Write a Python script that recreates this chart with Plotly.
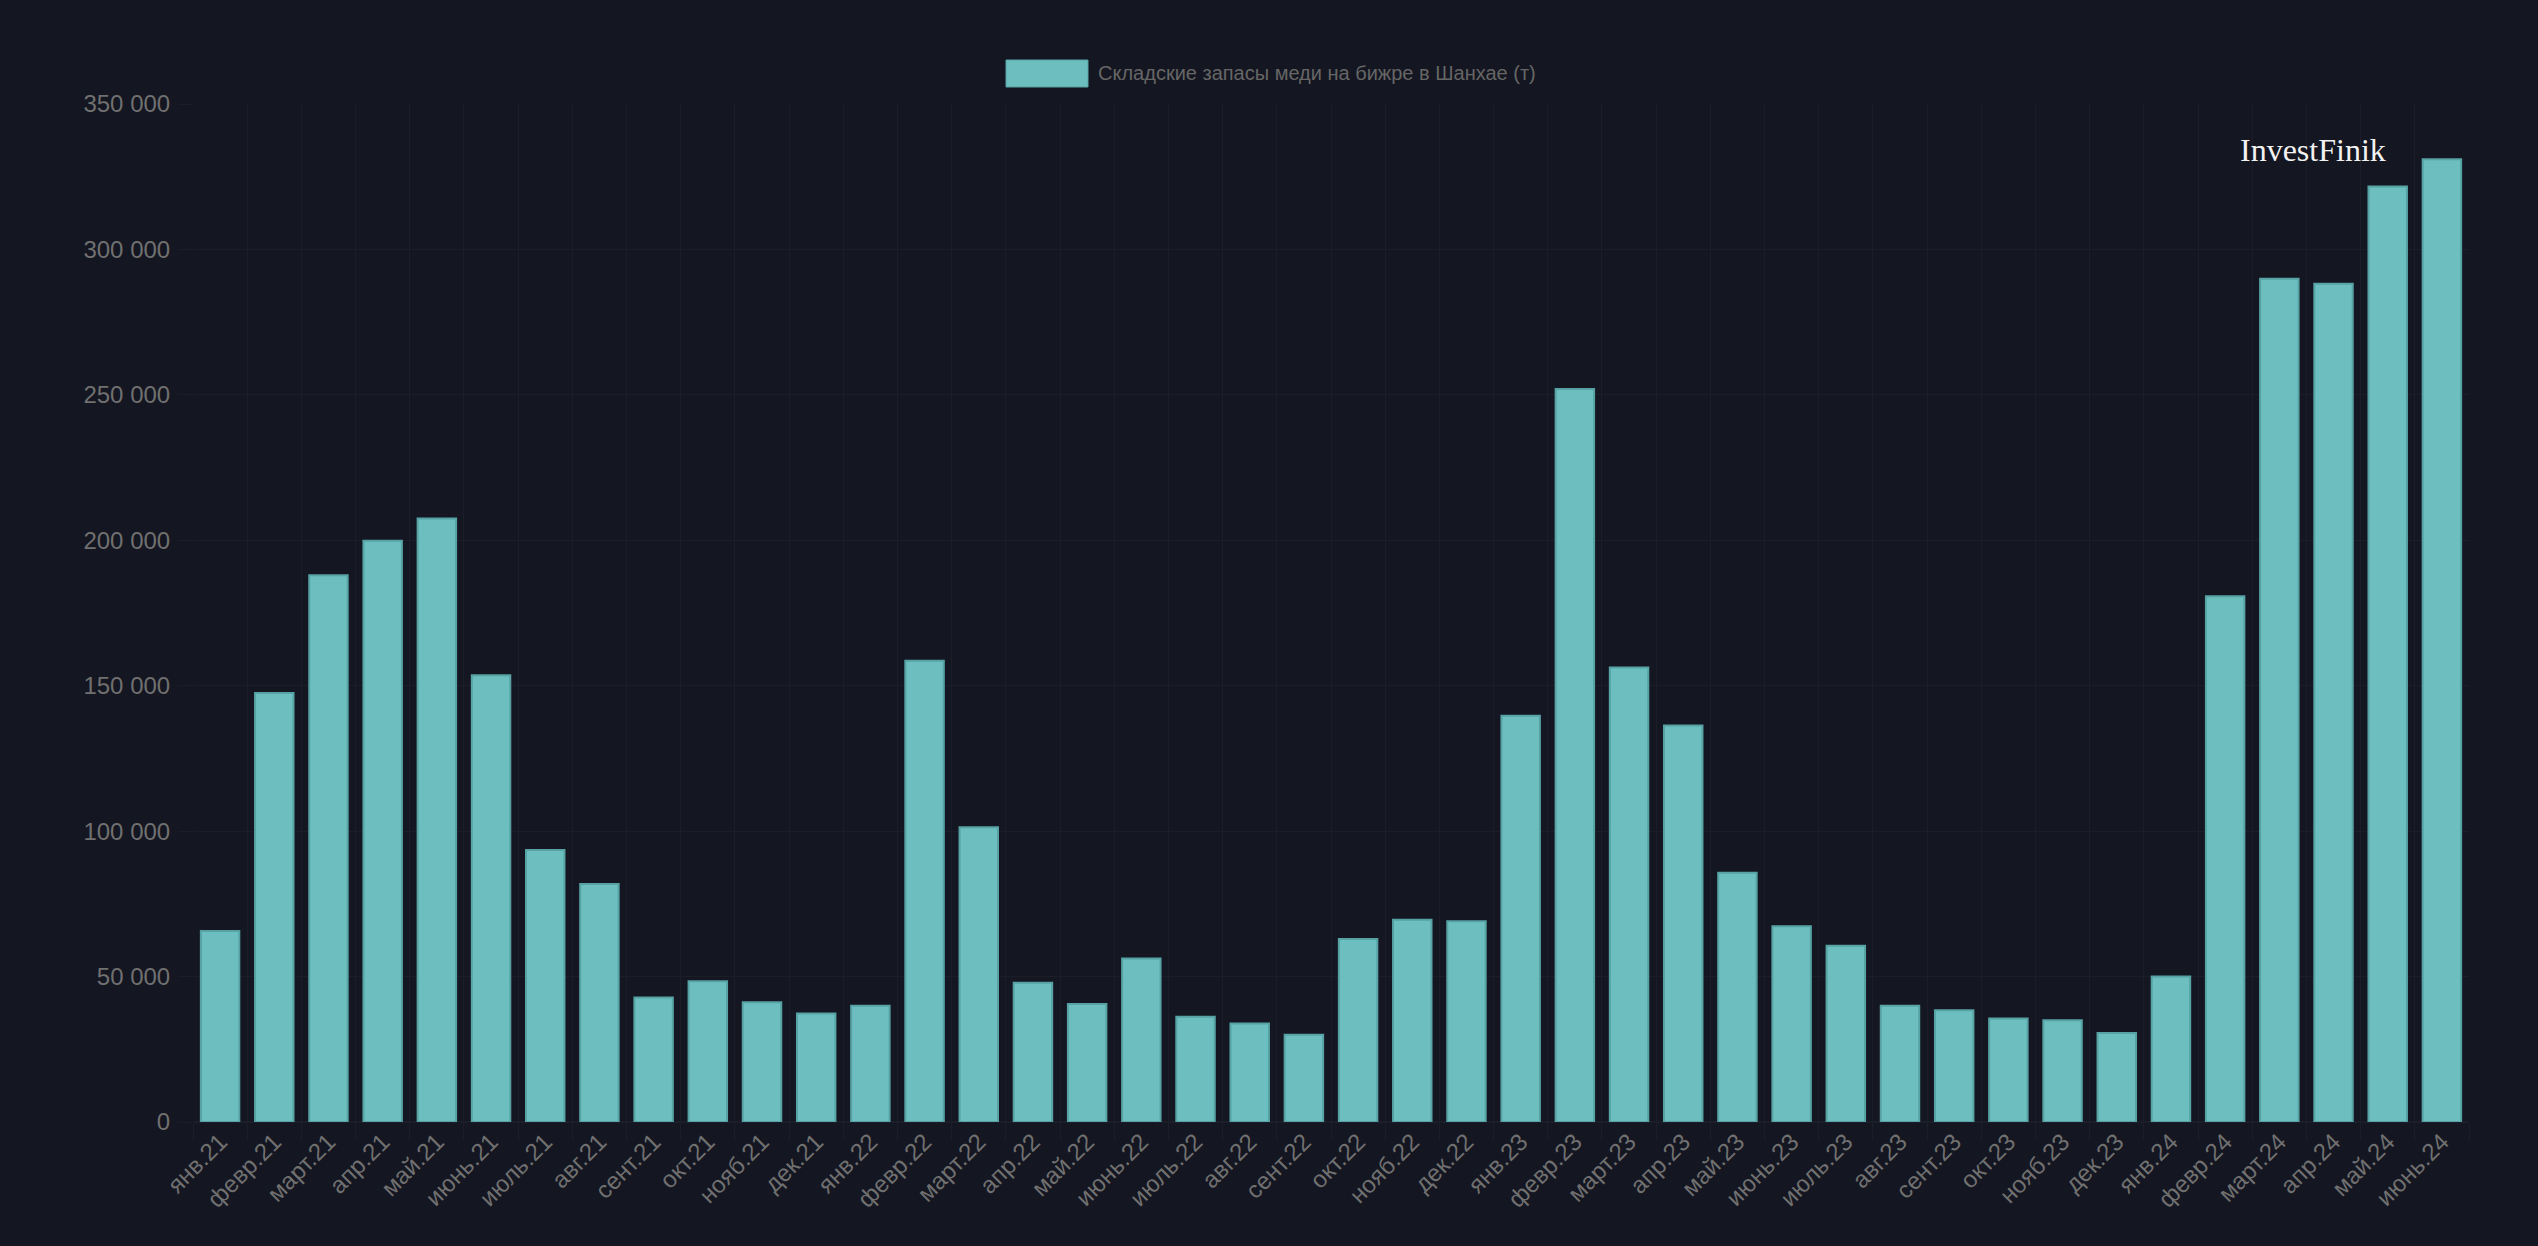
import plotly.graph_objects as go

months = ["янв.21", "февр.21", "март.21", "апр.21", "май.21", "июнь.21", "июль.21", "авг.21",
          "сент.21", "окт.21", "нояб.21", "дек.21", "янв.22", "февр.22", "март.22", "апр.22",
          "май.22", "июнь.22", "июль.22", "авг.22", "сент.22", "окт.22", "нояб.22", "дек.22",
          "янв.23", "февр.23", "март.23", "апр.23", "май.23", "июнь.23", "июль.23", "авг.23",
          "сент.23", "окт.23", "нояб.23", "дек.23", "янв.24", "февр.24", "март.24", "апр.24",
          "май.24", "июнь.24"]
stocks = [65700, 147500, 188000, 199800, 207500, 153600, 93500, 81800,
          42800, 48400, 41200, 37300, 40000, 158600, 101300, 47900,
          40600, 56200, 36200, 33900, 30000, 62900, 69500, 69000,
          139700, 252000, 156300, 136300, 85700, 67300, 60600, 40000,
          38400, 35600, 35000, 30600, 50000, 180800, 289900, 288200,
          321600, 331000]
series_name = "Складские запасы меди на бижре в Шанхае (т)"
y_ticks = [0, 50000, 100000, 150000, 200000, 250000, 300000, 350000]
y_tick_text = ["0", "50 000", "100 000", "150 000", "200 000", "250 000", "300 000", "350 000"]

BG = "#141621"
GRID = "#1b1e28"
BAR = "#6cbebf"
BAR_EDGE = "#56a2a4"
TXT = "#707070"

W, H = 2538, 1246
ML, MR, MT, MB = 193, 69, 104, 124
PW, PH = W - ML - MR, H - MT - MB

def px_x(x):
    return (x - ML) / PW

def px_y(y):
    return (H - MB - y) / PH

fig = go.Figure()
fig.add_trace(go.Bar(
    x=months, y=stocks, name=series_name,
    marker=dict(color=BAR, line=dict(color=BAR_EDGE, width=2)),
    showlegend=False,
))

# legend (drawn manually to match the wide swatch)
fig.add_shape(type="rect", xref="paper", yref="paper",
              x0=px_x(1006), x1=px_x(1088), y0=px_y(87), y1=px_y(60),
              fillcolor=BAR, line=dict(color=BAR_EDGE, width=1))
fig.add_annotation(xref="paper", yref="paper", x=px_x(1096), y=px_y(73),
                   xanchor="left", yanchor="middle", showarrow=False,
                   text=series_name, font=dict(size=20, color="#666666",
                                               family="Liberation Sans, Arial, sans-serif"))
# watermark
fig.add_annotation(xref="paper", yref="paper", x=px_x(2313), y=px_y(150),
                   xanchor="center", yanchor="middle", showarrow=False,
                   text="InvestFinik", font=dict(size=32, color="#f2f2f2",
                                                 family="Liberation Serif, Times New Roman, serif"))

fig.update_layout(
    width=W, height=H,
    margin=dict(l=ML, r=MR, t=MT, b=MB),
    paper_bgcolor=BG, plot_bgcolor=BG,
    bargap=0.29,
    font=dict(family="Liberation Sans, Arial, sans-serif", color=TXT),
    xaxis=dict(
        type="category", tickson="boundaries", showgrid=True, gridcolor=GRID, gridwidth=1,
        ticks="outside", ticklen=18, tickcolor=GRID, tickangle=-45,
        tickfont=dict(size=24, color=TXT), showline=False, zeroline=False,
    ),
    yaxis=dict(
        range=[0, 350000], tickvals=y_ticks, ticktext=y_tick_text,
        showgrid=True, gridcolor=GRID, gridwidth=1, zeroline=True, zerolinecolor=GRID,
        ticks="outside", ticklen=14, tickcolor=GRID, ticklabelstandoff=3,
        tickfont=dict(size=24, color=TXT), showline=False,
    ),
)

fig.write_html(
    "out.html",
    config={"displayModeBar": False},
    post_script="document.body.style.margin='0';document.body.style.overflow='hidden';"
                "document.body.style.background='" + BG + "';",
)
